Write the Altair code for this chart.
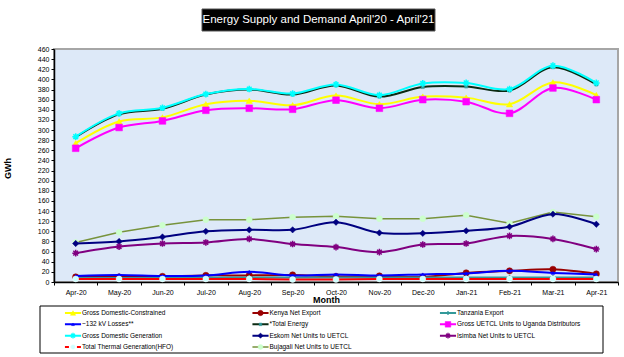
import altair as alt
import pandas as pd

months = ["Apr-20", "May-20", "Jun-20", "Jul-20", "Aug-20", "Sep-20", "Oct-20",
          "Nov-20", "Dec-20", "Jan-21", "Feb-21", "Mar-21", "Apr-21"]

gross_dom_constrained = [274, 317, 325, 351, 358, 349, 368, 351, 366, 364, 351, 394, 369]
kenya_net_export = [10, 10, 11, 13, 13, 14, 11, 12, 10, 18, 22, 25, 16]
tanzania_export = [8, 8, 8, 9, 9, 9, 9, 9, 9, 9, 9, 9, 9]
losses_132kv = [12, 14, 12, 13, 20, 13, 15, 13, 15, 17, 22, 18, 15]
total_energy = [286, 331, 342, 370, 380, 370, 388, 366, 385, 386, 378, 424, 390]
gross_uetcl = [264, 305, 318, 339, 343, 341, 359, 343, 360, 356, 333, 383, 360]
gross_dom_generation = [287, 333, 344, 371, 381, 372, 390, 369, 392, 393, 381, 427, 393]
eskom = [76, 80, 89, 100, 103, 103, 118, 97, 96, 101, 109, 134, 114]
isimba = [57, 70, 76, 78, 85, 75, 69, 59, 74, 76, 91, 85, 65]
thermal_hfo = [6, 6, 6, 6, 6, 5, 5, 6, 6, 6, 6, 6, 6]
bujagali = [78, 98, 112, 123, 123, 128, 130, 125, 125, 132, 116, 138, 129]

title_text = "Energy Supply and Demand April'20 - April'21"
y_ticks = list(range(0, 461, 20))

ASTER = "M-1,0L1,0M0,-1L0,1M-0.7,-0.7L0.7,0.7M-0.7,0.7L0.7,-0.7"
PLUS = "M-1,0L1,0M0,-1L0,1"

# name, values, line colour, marker shape, marker fill, marker stroke, size, interp, line width
series = [
    ("Gross Domestic-Constrained", gross_dom_constrained, "#FFFF00", "triangle-up", "#FFFF00", "#FFFF00", 40, "catmull-rom", 2),
    ("Kenya Net Export", kenya_net_export, "#990000", "circle", "#990000", "#990000", 40, "catmull-rom", 2),
    ("Tanzania Export", tanzania_export, "#339999", PLUS, "#339999", "#339999", 25, "catmull-rom", 2),
    ("~132 kV Losses**", losses_132kv, "#0000FF", "triangle-up", "#0000FF", "#0000FF", 12, "catmull-rom", 2),
    ("*Total Energy", total_energy, "#0B2A12", "square", "#339999", "#339999", 10, "catmull-rom", 2),
    ("Gross UETCL Units to Uganda Distributors", gross_uetcl, "#FF00FF", "square", "#FF00FF", "#FF00FF", 45, "catmull-rom", 2),
    ("Gross Domestic Generation", gross_dom_generation, "#00FFFF", ASTER, "#00FFFF", "#00FFFF", 45, "catmull-rom", 2),
    ("Eskom Net Units to UETCL", eskom, "#000080", "diamond", "#000080", "#000080", 40, "catmull-rom", 2),
    ("Isimba Net Units to UETCL", isimba, "#800080", ASTER, "#800080", "#800080", 45, "catmull-rom", 2),
    ("Total Thermal Generation(HFO)", thermal_hfo, "#FF0000", "circle", "#CCFFFF", "#FFFFFF", 35, "catmull-rom", 2),
    ("Bujagali Net Units to UETCL", bujagali, "#77933C", "circle", "#CCFFCC", "#CCFFCC", 35, "linear", 1.5),
]

FONT = "Liberation Sans, Arial"

rows = []
for name, vals, *_ in series:
    for m, v in zip(months, vals):
        rows.append({"series": name, "month": m, "value": v})
df = pd.DataFrame(rows)

x_enc = alt.X("month:N", sort=months, bandPosition=0.5,
              scale=alt.Scale(type="band", paddingInner=0, paddingOuter=0),
              axis=alt.Axis(title="Month", tickBand="extent", labelAngle=0,
                            titleX=272, titleY=13, titleFontWeight="bold",
                            titleFontSize=9, titleFont="Liberation Sans"))
y_enc = alt.Y("value:Q", scale=alt.Scale(domain=[0, 460], nice=False),
              axis=alt.Axis(title="GWh", values=y_ticks, titleX=-42, titleY=119,
                            titleFontWeight="bold", titleFontSize=9,
                            titleFont="Liberation Sans"))

main_layers = []
order = [10, 1, 2, 3, 9, 7, 8, 0, 5, 4, 6]  # drawing order
for idx in order:
    name, vals, lc, shape, mfill, mstroke, size, interp, lw = series[idx]
    base = alt.Chart(df).transform_filter(alt.datum.series == name)
    line = base.mark_line(color=lc, strokeWidth=lw, interpolate=interp).encode(x=x_enc, y=y_enc)
    if shape.startswith("M"):
        pt = base.mark_point(shape=shape, filled=False, stroke=mstroke, strokeWidth=1.5,
                             size=size, opacity=1).encode(x=x_enc, y=y_enc)
    else:
        pt = base.mark_point(shape=shape, filled=True, fill=mfill, stroke=mstroke,
                             strokeWidth=0.5, size=size, opacity=1).encode(x=x_enc, y=y_enc)
    main_layers.append(line)
    main_layers.append(pt)

main = alt.layer(*main_layers)

# Legend built from the same series list
leg_rows = []
for i, s in enumerate(series):
    col = i % 3
    row = i // 3
    leg_rows.append({"series": s[0], "col": col, "row": row,
                     "x0": col - 0.043, "x1": col + 0.043})
leg_df = pd.DataFrame(leg_rows)

lx = alt.X("col:Q", scale=alt.Scale(domain=[0, 2], range=[19, 394]), axis=None)
ly = alt.Y("row:Q", scale=alt.Scale(domain=[0, 3], range=[264, 298]), axis=None)
lx0 = alt.X("x0:Q", scale=alt.Scale(domain=[0, 2], range=[19, 394]), axis=None)

legend_layers = []
for name, vals, lc, shape, mfill, mstroke, size, interp, lw in series:
    b = alt.Chart(leg_df).transform_filter(alt.datum.series == name)
    ldash = [4, 2] if name.startswith("Total Thermal") else [1, 0]
    legend_layers.append(b.mark_rule(color=lc, strokeWidth=lw, strokeDash=ldash).encode(
        x=lx0, x2="x1:Q", y=ly))
    if shape.startswith("M"):
        legend_layers.append(b.mark_point(shape=shape, filled=False, stroke=mstroke,
                                          strokeWidth=1.3, size=size * 0.7, opacity=1).encode(x=lx, y=ly))
    else:
        legend_layers.append(b.mark_point(shape=shape, filled=True, fill=mfill, stroke=mstroke,
                                          strokeWidth=0.5, size=size * 0.7, opacity=1).encode(x=lx, y=ly))
legend_layers.append(alt.Chart(leg_df).mark_text(align="left", baseline="middle", dx=9,
                                                 font=FONT, fontSize=6.5, color="black").encode(
    x=lx, y=ly, text="series:N"))

one = pd.DataFrame({"t": [title_text]})
frame = alt.Chart(one).mark_rect(fill="white", stroke="black", strokeWidth=1).encode(
    x=alt.value(-14), x2=alt.value(549), y=alt.value(257), y2=alt.value(304))
title_box = alt.Chart(one).mark_rect(fill="black", stroke="#555555", strokeWidth=1).encode(
    x=alt.value(148), x2=alt.value(381), y=alt.value(-40), y2=alt.value(-18))
title_txt = alt.Chart(one).mark_text(font="Liberation Sans", fontSize=11.5, color="white",
                                     align="center", baseline="middle").encode(
    x=alt.value(264.5), y=alt.value(-29), text="t:N")

legend = alt.layer(frame, *legend_layers)

chart = alt.layer(main, legend, title_box, title_txt).resolve_scale(
    x="independent", y="independent"
).properties(
    width=564, height=233,
    padding={"left": 54, "top": 49, "right": 6, "bottom": 75},
    autosize=alt.AutoSizeParams(type="none"),
    background="white",
).configure_view(
    fill="#DDE9F8", stroke="#A6A6A6", strokeWidth=2
).configure_axis(
    grid=False, domainColor="black", domainWidth=1.5, tickColor="black", tickSize=3,
    tickWidth=1, labelFont=FONT, labelFontSize=7, labelColor="black",
    titleColor="black", labelPadding=2
).configure_axisX(
    labelPadding=3
)

chart.save("out.html", embed_options={"renderer": "svg", "actions": False})
